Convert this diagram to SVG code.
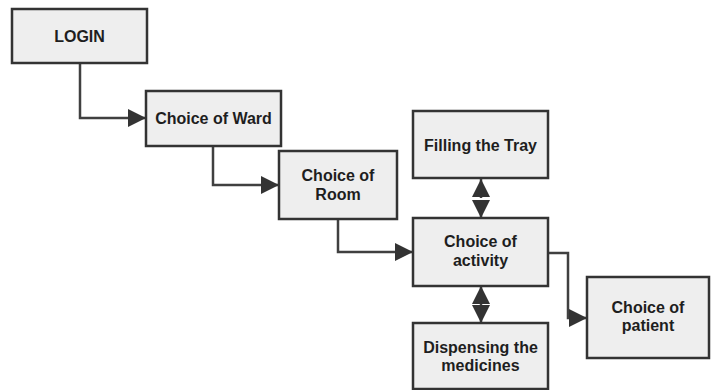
<svg xmlns="http://www.w3.org/2000/svg" width="712" height="390" viewBox="0 0 712 390">
  <style>
    .box { fill: #eeeeee; stroke: #333333; stroke-width: 2.5; }
    .lbl { font-family: "Liberation Sans", Arial, sans-serif; font-weight: bold; font-size: 16px; fill: #1e1e1e; text-anchor: middle; }
    .wire { fill: none; stroke: #404040; stroke-width: 2.5; }
  </style>
  <defs>
    <marker id="arrow" viewBox="0 0 18 18" refX="18" refY="9" markerWidth="18" markerHeight="18" markerUnits="userSpaceOnUse" orient="auto">
      <path d="M0,0 L18,9 L0,18 Z" fill="#333333"/>
    </marker>
    <marker id="arrowStart" viewBox="0 0 18 18" refX="0" refY="9" markerWidth="18" markerHeight="18" markerUnits="userSpaceOnUse" orient="auto">
      <path d="M18,0 L0,9 L18,18 Z" fill="#333333"/>
    </marker>
  </defs>
  <rect width="712" height="390" fill="#ffffff"/>

  <g id="connectors">
    <path class="wire" d="M80,63 V118 H146" marker-end="url(#arrow)"/>
    <path class="wire" d="M213,146 V185 H279" marker-end="url(#arrow)"/>
    <path class="wire" d="M338,219 V252 H413" marker-end="url(#arrow)"/>
    <path class="wire" d="M548,253 H568 V318 H587" marker-end="url(#arrow)"/>
    <g id="tray-link">
      <path class="wire" d="M481,179 V198" marker-start="url(#arrowStart)"/>
      <path class="wire" d="M481,200 V218" marker-end="url(#arrow)"/>
    </g>
    <g id="dispense-link">
      <path class="wire" d="M481,286 V305" marker-start="url(#arrowStart)"/>
      <path class="wire" d="M481,307 V323" marker-end="url(#arrow)"/>
    </g>
  </g>

  <g id="login">
    <rect class="box" x="12" y="9" width="135" height="54"/>
    <text class="lbl" x="79.5" y="42">LOGIN</text>
  </g>
  <g id="ward">
    <rect class="box" x="146" y="91" width="135" height="55"/>
    <text class="lbl" x="213.5" y="124">Choice of Ward</text>
  </g>
  <g id="room">
    <rect class="box" x="279" y="151" width="118" height="68"/>
    <text class="lbl" x="338" y="181">Choice of</text>
    <text class="lbl" x="338" y="199.5">Room</text>
  </g>
  <g id="tray">
    <rect class="box" x="413" y="111" width="135" height="67"/>
    <text class="lbl" x="480.5" y="151">Filling the Tray</text>
  </g>
  <g id="activity">
    <rect class="box" x="413" y="218" width="135" height="68"/>
    <text class="lbl" x="480.5" y="247">Choice of</text>
    <text class="lbl" x="480.5" y="265.5">activity</text>
  </g>
  <g id="dispensing">
    <rect class="box" x="413" y="323" width="135" height="66"/>
    <text class="lbl" x="480.5" y="352.5">Dispensing the</text>
    <text class="lbl" x="480.5" y="371">medicines</text>
  </g>
  <g id="patient">
    <rect class="box" x="587" y="277" width="122" height="81"/>
    <text class="lbl" x="648" y="312.5">Choice of</text>
    <text class="lbl" x="648" y="331">patient</text>
  </g>
</svg>
